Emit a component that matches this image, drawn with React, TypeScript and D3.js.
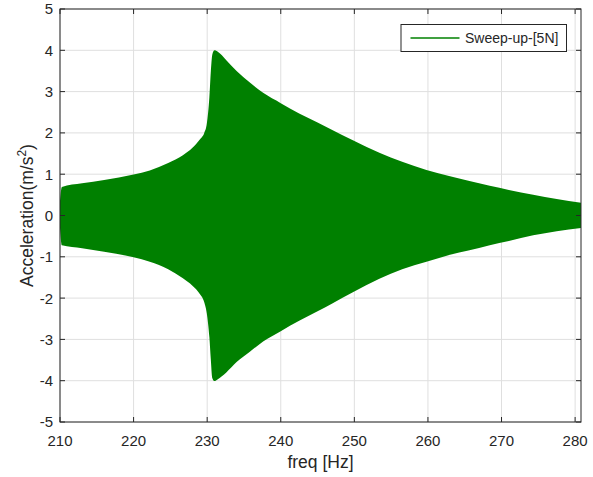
import React from "react";
import * as d3 from "d3";

// envelope of the sweep response
const freq = [
  210, 210.25, 213, 216, 220, 222.2, 224.7, 226.7, 228, 229, 229.6, 229.95, 230.3, 230.5, 230.7,
  231.0, 231.4, 232.6, 234, 235.8, 237.6, 240, 242.5, 245, 247, 249.8, 253.4, 256.5, 259.8, 263,
  265.5, 268.4, 271, 274.3, 277.5, 280.8,
];
const upper = [
  0.35, 0.69, 0.78, 0.86, 0.99, 1.09, 1.27, 1.46, 1.64, 1.84, 2.0, 2.22, 2.87, 3.5, 3.9,
  4.0, 3.97, 3.76, 3.5, 3.22, 2.97, 2.72, 2.47, 2.25, 2.07, 1.82, 1.52, 1.3, 1.1, 0.95,
  0.84, 0.72, 0.62, 0.5, 0.4, 0.31,
];
const lower = [
  -0.3, -0.72, -0.79, -0.88, -1.01, -1.12, -1.3, -1.52, -1.7, -1.9, -2.1, -2.37, -2.95, -3.5, -3.94,
  -4.01, -3.97, -3.8, -3.55, -3.3, -3.05, -2.8, -2.55, -2.32, -2.13, -1.86, -1.53, -1.3, -1.12, -0.95,
  -0.85, -0.72, -0.62, -0.48, -0.38, -0.3,
];
const xTicks = [210, 220, 230, 240, 250, 260, 270, 280];
const yTicks = [-5, -4, -3, -2, -1, 0, 1, 2, 3, 4, 5];
const seriesName = "Sweep-up-[5N]";

const W = 593;
const H = 477;
const m = { left: 60, right: 12, top: 9, bottom: 55 };
const green = "#008000";
const ink = "#262626";
const font = "'Liberation Sans', Arial, sans-serif";

export default function App() {
  const x = d3.scaleLinear().domain([210, 280.8]).range([m.left, W - m.right]);
  const y = d3.scaleLinear().domain([-5, 5]).range([H - m.bottom, m.top]);

  const pts = freq.map((f, i) => ({ f, hi: upper[i], lo: lower[i] }));
  const area = d3
    .area<{ f: number; hi: number; lo: number }>()
    .curve(d3.curveMonotoneX)
    .x((d) => x(d.f))
    .y0((d) => y(d.lo))
    .y1((d) => y(d.hi));

  const x0 = m.left;
  const x1 = W - m.right;
  const y0 = H - m.bottom;
  const y1 = m.top;
  const tick = 5;

  return (
    <svg
      width={W}
      height={H}
      style={{ position: "absolute", left: 0, top: 0, background: "white" }}
      fontFamily={font}
    >
      {/* grid */}
      <g stroke="#dfdfdf" strokeWidth={1}>
        {xTicks.map((t) => (
          <line key={"gx" + t} x1={x(t)} x2={x(t)} y1={y1} y2={y0} />
        ))}
        {yTicks.map((t) => (
          <line key={"gy" + t} x1={x0} x2={x1} y1={y(t)} y2={y(t)} />
        ))}
      </g>

      <path d={area(pts) ?? ""} fill={green} />

      {/* box + ticks */}
      <g stroke={ink} strokeWidth={1}>
        <rect x={x0} y={y1} width={x1 - x0} height={y0 - y1} fill="none" />
        {xTicks.map((t) => (
          <g key={"tx" + t}>
            <line x1={x(t)} x2={x(t)} y1={y0} y2={y0 - tick} />
            <line x1={x(t)} x2={x(t)} y1={y1} y2={y1 + tick} />
          </g>
        ))}
        {yTicks.map((t) => (
          <g key={"ty" + t}>
            <line x1={x0} x2={x0 + tick} y1={y(t)} y2={y(t)} />
            <line x1={x1} x2={x1 - tick} y1={y(t)} y2={y(t)} />
          </g>
        ))}
      </g>

      {/* tick labels */}
      <g fill={ink} fontSize={15}>
        {xTicks.map((t) => (
          <text key={"lx" + t} x={x(t)} y={446} textAnchor="middle">
            {t}
          </text>
        ))}
        {yTicks.map((t) => (
          <text key={"ly" + t} x={53} y={y(t)} dy="0.36em" textAnchor="end">
            {t}
          </text>
        ))}
      </g>

      {/* axis labels */}
      <text x={(x0 + x1) / 2} y={468} textAnchor="middle" fontSize={17.5} fill={ink}>
        freq [Hz]
      </text>
      <text
        transform={`translate(33,${(y0 + y1) / 2}) rotate(-90)`}
        textAnchor="middle"
        fontSize={17.5}
        fill={ink}
      >
        Acceleration(m/s
        <tspan fontSize={12} dy={-7}>
          2
        </tspan>
        <tspan dy={7}>)</tspan>
      </text>

      {/* legend */}
      <g>
        <rect x={401} y={24.5} width={165.5} height={27} fill="white" stroke={ink} strokeWidth={1} />
        <line x1={410.5} x2={459.5} y1={38} y2={38} stroke={green} strokeWidth={1.5} />
        <text x={465} y={38} dy="0.36em" fontSize={14} fill={ink}>
          {seriesName}
        </text>
      </g>
    </svg>
  );
}
